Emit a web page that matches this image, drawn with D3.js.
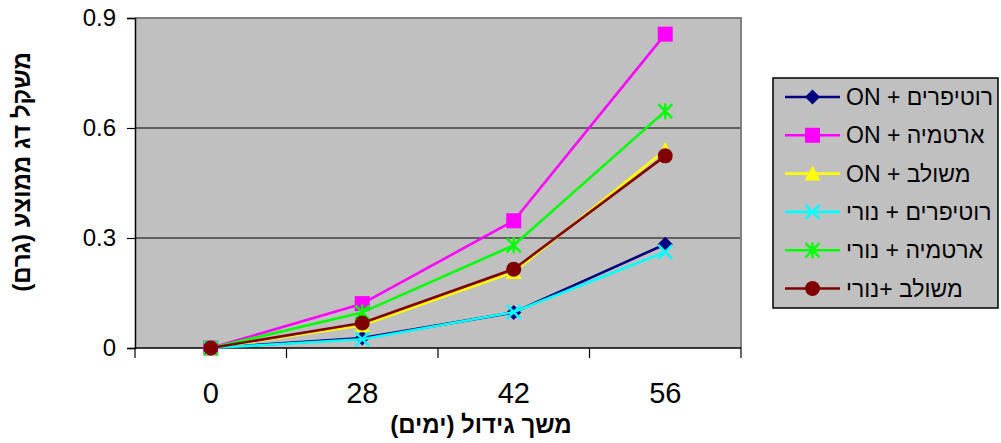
<!DOCTYPE html>
<html>
<head>
<meta charset="utf-8">
<script src="https://cdn.jsdelivr.net/npm/d3@7"></script>
<style>
  html, body { margin: 0; padding: 0; background: #fff; }
  svg { display: block; font-family: "Liberation Sans", Arial, sans-serif; }
</style>
</head>
<body>
<svg id="chart" width="1001" height="443"></svg>
<script>
// Growth period (days) on the x axis
const days = ["0", "28", "42", "56"];
const yTicks = [0, 0.3, 0.6, 0.9];

// Mean fish weight (grams) per feeding treatment
const rotifersON   = [0, 0.027, 0.097, 0.283];
const artemiaON    = [0, 0.121, 0.347, 0.856];
const combinedON   = [0, 0.062, 0.207, 0.540];
const rotifersNori = [0, 0.024, 0.098, 0.262];
const artemiaNori  = [0, 0.097, 0.280, 0.646];
const combinedNori = [0, 0.068, 0.215, 0.524];

const seriesNames = [
  "רוטיפרים + ON",
  "ארטמיה + ON",
  "משולב + ON",
  "רוטיפרים + נורי",
  "ארטמיה + נורי",
  "משולב +נורי"
];
const seriesValues = [rotifersON, artemiaON, combinedON, rotifersNori, artemiaNori, combinedNori];
const seriesColors = ["#000080", "#FF00FF", "#FFFF00", "#00FFFF", "#00FF00", "#800000"];
const seriesMarkers = ["diamond", "square", "triangle", "cross", "star", "circle"];

const svg = d3.select("#chart");
const plot = { left: 135, right: 741, top: 18, bottom: 348 };

const x = d3.scaleBand().domain(days).range([plot.left, plot.right]).padding(0);
const y = d3.scaleLinear().domain([0, 0.9]).range([plot.bottom, plot.top]);
const cx = d => x(d) + x.bandwidth() / 2;

// plot background
svg.append("rect")
  .attr("x", plot.left).attr("y", plot.top)
  .attr("width", plot.right - plot.left).attr("height", plot.bottom - plot.top)
  .attr("fill", "#C0C0C0");

// horizontal gridlines
svg.append("g").selectAll("line")
  .data(yTicks.filter(v => v > 0 && v < 0.9))
  .join("line")
  .attr("x1", plot.left).attr("x2", plot.right)
  .attr("y1", d => y(d)).attr("y2", d => y(d))
  .attr("stroke", "#000").attr("stroke-width", 1.2);

// frame: top and right edges
svg.append("path")
  .attr("d", `M${plot.left},${plot.top}H${plot.right}V${plot.bottom}`)
  .attr("fill", "none").attr("stroke", "#808080").attr("stroke-width", 2);

// y axis
const yAxis = svg.append("g")
  .attr("transform", `translate(${plot.left},0)`)
  .call(d3.axisLeft(y).tickValues(yTicks).tickSize(8).tickPadding(11)
    .tickFormat(d => d === 0 ? "0" : d3.format(".1f")(d)));
yAxis.select(".domain").attr("stroke", "#000").attr("stroke-width", 1.5);
yAxis.selectAll(".tick line").attr("stroke", "#000").attr("stroke-width", 1.2);
yAxis.selectAll(".tick text")
  .attr("font-size", 24).attr("fill", "#000")
  .attr("font-family", "Liberation Sans, Arial, sans-serif");

// x axis: labels centred in each category, ticks on category boundaries
const xAxis = svg.append("g")
  .attr("transform", `translate(0,${plot.bottom})`)
  .call(d3.axisBottom(x).tickSize(0).tickPadding(0));
xAxis.select(".domain").remove();
xAxis.selectAll(".tick text")
  .attr("font-size", 29).attr("fill", "#000")
  .attr("font-family", "Liberation Sans, Arial, sans-serif")
  .attr("y", 55).attr("dy", null);

const boundaries = days.map(d => x(d)).concat([plot.right]);
svg.append("line")
  .attr("x1", plot.left).attr("x2", plot.right)
  .attr("y1", plot.bottom).attr("y2", plot.bottom)
  .attr("stroke", "#000").attr("stroke-width", 1.5);
svg.append("g").selectAll("line")
  .data(boundaries).join("line")
  .attr("x1", d => d).attr("x2", d => d)
  .attr("y1", plot.bottom).attr("y2", plot.bottom + 10)
  .attr("stroke", "#000").attr("stroke-width", 1.2);

// axis titles
svg.append("text")
  .attr("transform", "translate(30,172) rotate(-90)")
  .attr("text-anchor", "middle")
  .attr("direction", "rtl")
  .attr("font-weight", "bold").attr("font-size", 24)
  .text("משקל דג ממוצע (גרם)");

svg.append("text")
  .attr("x", 481).attr("y", 433)
  .attr("text-anchor", "middle")
  .attr("direction", "rtl")
  .attr("font-weight", "bold").attr("font-size", 24)
  .text("משך גידול (ימים)");

// marker drawing
function drawMarker(g, type, color, px, py) {
  if (type === "diamond") {
    g.append("path")
      .attr("d", `M${px},${py - 7.5}L${px + 7.5},${py}L${px},${py + 7.5}L${px - 7.5},${py}Z`)
      .attr("fill", color);
  } else if (type === "square") {
    g.append("rect").attr("x", px - 7.5).attr("y", py - 7.5)
      .attr("width", 15).attr("height", 15).attr("fill", color);
  } else if (type === "triangle") {
    g.append("path")
      .attr("d", `M${px},${py - 8}L${px + 8},${py + 7}L${px - 8},${py + 7}Z`)
      .attr("fill", color);
  } else if (type === "cross") {
    g.append("path")
      .attr("d", `M${px - 7},${py - 7}L${px + 7},${py + 7}M${px + 7},${py - 7}L${px - 7},${py + 7}`)
      .attr("stroke", color).attr("stroke-width", 2.5);
  } else if (type === "star") {
    g.append("path")
      .attr("d", `M${px - 7},${py - 7}L${px + 7},${py + 7}M${px + 7},${py - 7}L${px - 7},${py + 7}M${px},${py - 8}L${px},${py + 8}`)
      .attr("stroke", color).attr("stroke-width", 2.5);
  } else if (type === "circle") {
    g.append("circle").attr("cx", px).attr("cy", py).attr("r", 7.5).attr("fill", color);
  }
}

// series lines and markers
const line = d3.line().x((d, i) => cx(days[i])).y(d => y(d));
seriesValues.forEach((vals, s) => {
  const g = svg.append("g");
  g.append("path")
    .attr("d", line(vals))
    .attr("fill", "none")
    .attr("stroke", seriesColors[s])
    .attr("stroke-width", 2.6)
    .attr("stroke-linejoin", "round");
  vals.forEach((v, i) => drawMarker(g, seriesMarkers[s], seriesColors[s], cx(days[i]), y(v)));
});

// legend
const legend = svg.append("g");
legend.append("rect")
  .attr("x", 773).attr("y", 78).attr("width", 225).attr("height", 230)
  .attr("fill", "#C0C0C0").attr("stroke", "#000").attr("stroke-width", 1.5);
seriesNames.forEach((name, s) => {
  const ly = 97 + s * 38.3;
  legend.append("line")
    .attr("x1", 785).attr("x2", 840).attr("y1", ly).attr("y2", ly)
    .attr("stroke", seriesColors[s]).attr("stroke-width", 2.6);
  drawMarker(legend, seriesMarkers[s], seriesColors[s], 812.5, ly);
  legend.append("text")
    .attr("x", 846).attr("y", ly + 8)
    .attr("direction", "rtl")
    .attr("text-anchor", "end")
    .attr("font-size", 23)
    .text(name);
});
</script>
</body>
</html>
